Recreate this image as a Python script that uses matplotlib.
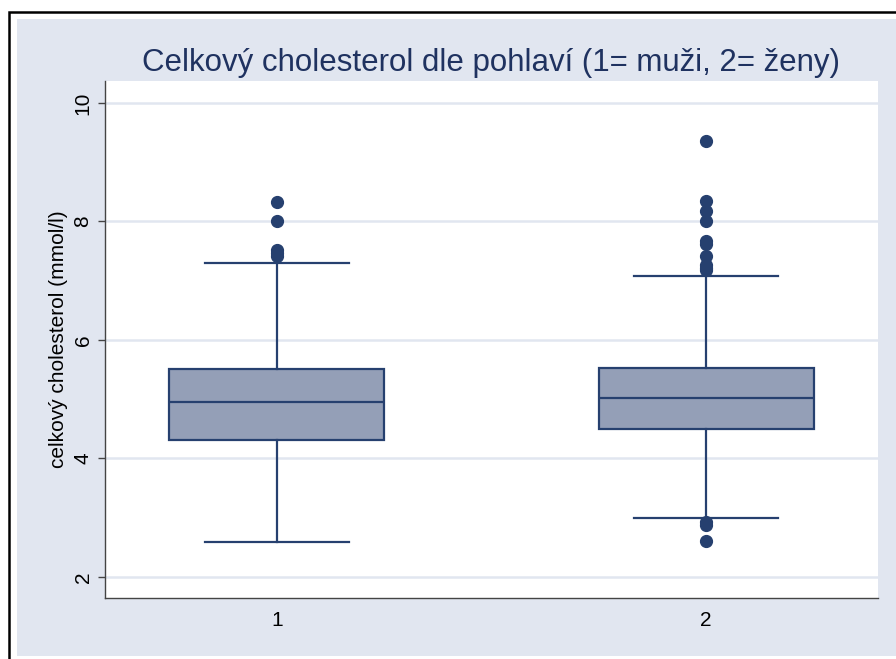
import matplotlib.pyplot as plt
from matplotlib.patches import Rectangle

plt.rcParams['font.family'] = ['Liberation Sans', 'DejaVu Sans']

# box statistics (1 = men, 2 = women)
groups = ['1', '2']
q1 = [4.31, 4.50]
med = [4.95, 5.02]
q3 = [5.51, 5.53]
wlo = [2.59, 3.00]
whi = [7.30, 7.08]
fliers = [
    [8.33, 8.01, 7.52, 7.46, 7.41],
    [9.35, 8.35, 8.18, 8.01, 7.67, 7.62, 7.42, 7.27, 7.22, 7.18, 2.92, 2.87, 2.60],
]

navy = '#26406f'
fill = '#949fb7'
bg = '#e1e6f0'

W, H = 896, 659
fig = plt.figure(figsize=(W / 100, H / 100), dpi=100, facecolor='white')

# outer frame (only top and left edges are visible) and light background
fig.patches.append(Rectangle((9 / W, -0.1), 1.2, 1.1 - 12 / H, transform=fig.transFigure,
                             facecolor='none', edgecolor='black', lw=1.8, zorder=-2))
fig.patches.append(Rectangle((17 / W, 3 / H), 1, 1 - 22 / H, transform=fig.transFigure,
                             facecolor=bg, edgecolor='none', zorder=-1))

ax = fig.add_axes([105 / W, 1 - 598 / H, (878 - 105) / W, (598 - 81) / H])
ax.set_facecolor('white')

stats = []
for i in range(2):
    stats.append(dict(med=med[i], q1=q1[i], q3=q3[i], whislo=wlo[i], whishi=whi[i],
                      fliers=fliers[i], label=groups[i]))

ax.bxp(stats, positions=[1, 2], widths=0.5, patch_artist=True,
       boxprops=dict(facecolor=fill, edgecolor=navy, lw=1.6),
       medianprops=dict(color=navy, lw=1.6),
       whiskerprops=dict(color=navy, lw=1.6),
       capprops=dict(color=navy, lw=1.6), capwidths=0.336,
       flierprops=dict(marker='o', markerfacecolor=navy, markeredgecolor=navy,
                       markersize=8.5), zorder=3)

ax.set_xlim(0.6, 2.4)
ax.set_ylim(1.645, 10.37)
ax.set_yticks([2, 4, 6, 8, 10])
ax.set_yticklabels(['2', '4', '6', '8', '10'], rotation=90, va='center')
ax.grid(axis='y', color=bg, lw=1.8, zorder=0)
ax.set_axisbelow(True)

for s in ['top', 'right']:
    ax.spines[s].set_visible(False)
for s in ['left', 'bottom']:
    ax.spines[s].set_color('#444444')
    ax.spines[s].set_linewidth(1.0)

ax.tick_params(axis='y', length=5, width=1, color='#444444', labelsize=15, pad=4)
ax.tick_params(axis='x', length=0, labelsize=15, pad=9)

ax.set_ylabel('celkový cholesterol (mmol/l)', fontsize=15, labelpad=4)
fig.text((105 + 878) / 2 / W, 1 - 63 / H,
         'Celkový cholesterol dle pohlaví (1= muži, 2= ženy)',
         ha='center', va='center', fontsize=22.5, color='#1f3260')

fig.savefig('out.png', dpi=100, facecolor='white')
